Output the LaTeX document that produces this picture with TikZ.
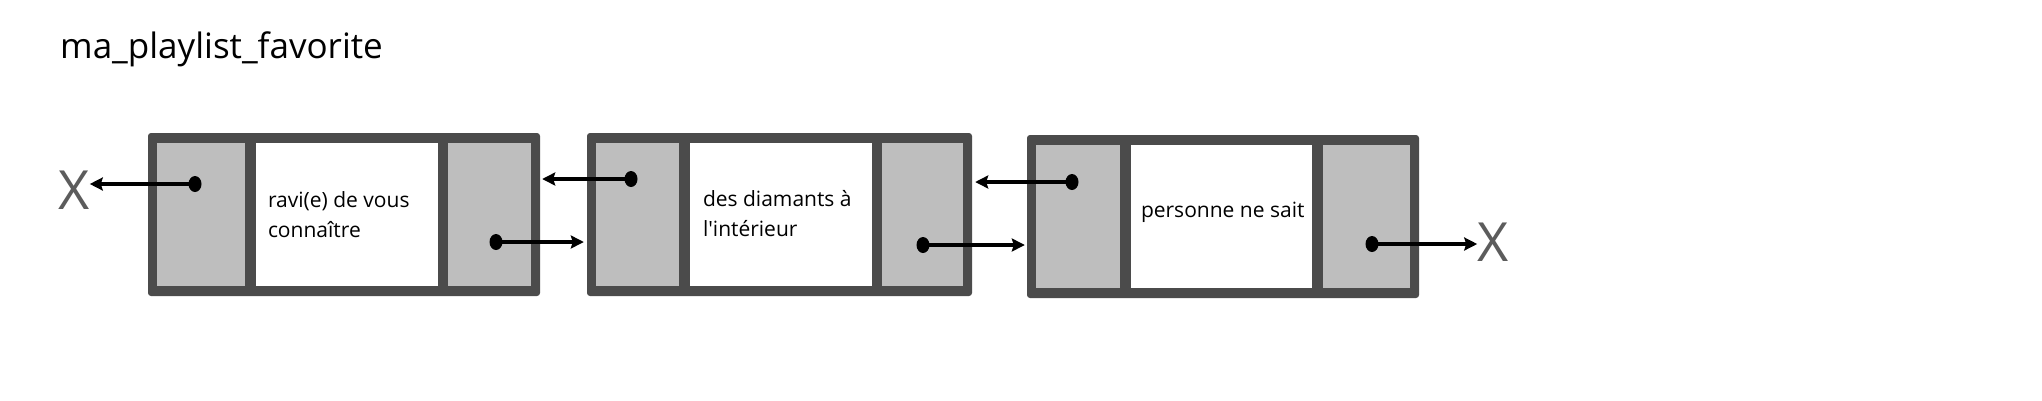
\documentclass[tikz,border=0pt]{standalone}
\usepackage{fontspec}
\setmainfont{Open Sans}
\usetikzlibrary{positioning,arrows.meta,shapes.geometric,calc}
\definecolor{framegray}{HTML}{4B4B4B}
\definecolor{cellgray}{HTML}{BEBEBE}
\definecolor{xgray}{HTML}{5C5C5C}

\begin{document}
\begin{tikzpicture}[x=1pt,y=-1pt,
    frame/.style={fill=framegray,rounded corners=3pt,inner sep=0pt,minimum height=163pt},
    cell/.style={fill=cellgray,inner sep=0pt,minimum height=143pt},
    datacell/.style={fill=white,inner sep=0pt,minimum height=143pt},
    eltxt/.style={anchor=west,inner sep=0pt,align=left,font=\fontsize{21}{30}\selectfont},
    ptr/.style={fill=black,ellipse,inner sep=0pt,minimum width=13pt,minimum height=16pt},
    link/.style={-{Stealth[length=13pt,width=13pt,inset=2pt]},line width=3.5pt},
    nul/.style={text=xgray,inner sep=0pt,font=\fontsize{54}{54}\selectfont}]
    \useasboundingbox (0,0) rectangle (2042,400);
    \fill[white] (0,0) rectangle (2042,400);

    \node[anchor=base west,inner sep=0pt,font=\fontsize{35}{42}\selectfont] (title) at (60,58) {ma\_playlist\_favorite};

    % first element
    \node[frame,minimum width=392pt] (f1) at (344,214.5) {};
    \node[cell,minimum width=88pt] (l1) at (201,214.5) {};
    \node[datacell,minimum width=182pt] (m1) at (347,214.5) {};
    \node[cell,minimum width=83pt] (r1) at (489.5,214.5) {};

    % second element
    \node[frame,minimum width=385pt] (f2) at (779.5,214.5) {};
    \node[cell,minimum width=83pt] (l2) at (637.5,214.5) {};
    \node[datacell,minimum width=182pt] (m2) at (781,214.5) {};
    \node[cell,minimum width=81pt] (r2) at (922.5,214.5) {};

    % third element
    \node[frame,minimum width=392pt] (f3) at (1223,216.5) {};
    \node[cell,minimum width=84pt] (l3) at (1078,216.5) {};
    \node[datacell,minimum width=181pt] (m3) at (1221.5,216.5) {};
    \node[cell,minimum width=87pt] (r3) at (1366.5,216.5) {};

    \node[eltxt] (t1) at ($(m1.west)+(12,0)$) {ravi(e) de vous\\connaître};
    \node[eltxt] (t2) at ($(m2.west)+(13,-1)$) {des diamants à\\l\textquotesingle intérieur};
    \node[eltxt] (t3) at ($(m3.west)+(10,-4)$) {personne ne sait};

    \node[ptr] (p1l) at (195,184) {};
    \node[ptr] (p1r) at (496,242) {};
    \node[ptr] (p2l) at (631,179) {};
    \node[ptr] (p2r) at (923,245) {};
    \node[ptr] (p3l) at (1072,182) {};
    \node[ptr] (p3r) at (1372,244) {};

    \node[nul] (x1) at (74,190) {X};
    \node[nul] (x2) at (1493,242) {X};

    \draw[link] (p1l.center) -- (p1l.center -| x1.east);
    \draw[link,shorten >=3pt] (p1r.center) -- (p1r.center -| f2.west);
    \draw[link,shorten >=2pt] (p2l.center) -- (p2l.center -| f1.east);
    \draw[link,shorten >=2pt] (p2r.center) -- (p2r.center -| f3.west);
    \draw[link,shorten >=3pt] (p3l.center) -- (p3l.center -| f2.east);
    \draw[link] (p3r.center) -- (p3r.center -| x2.west);
\end{tikzpicture}
\end{document}
